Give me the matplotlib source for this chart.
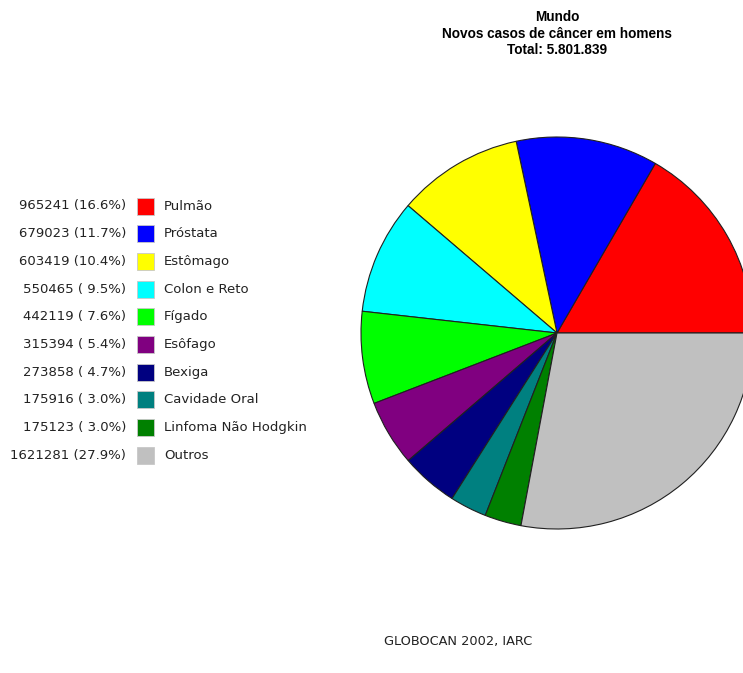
import matplotlib.pyplot as plt

# Novos casos de cancer em homens, mundo (GLOBOCAN 2002)
sites = ['Pulmão', 'Próstata', 'Estômago', 'Colon e Reto', 'Fígado',
         'Esôfago', 'Bexiga', 'Cavidade Oral', 'Linfoma Não Hodgkin', 'Outros']
cases = [965241, 679023, 603419, 550465, 442119,
         315394, 273858, 175916, 175123, 1621281]
pcts = [16.6, 11.7, 10.4, 9.5, 7.6, 5.4, 4.7, 3.0, 3.0, 27.9]
colors = ['#FF0000', '#0000FF', '#FFFF00', '#00FFFF', '#00FF00',
          '#800080', '#000080', '#008080', '#008000', '#C0C0C0']

W, H = 743, 673
fig = plt.figure(figsize=(W / 100, H / 100), dpi=100)
ax = fig.add_axes([0, 0, 1, 1])

ax.pie(cases, colors=colors, startangle=0, counterclock=True,
       center=(557, H - 333), radius=196,
       wedgeprops=dict(edgecolor='#202020', linewidth=0.8))
ax.set_xlim(0, W)
ax.set_ylim(0, H)
ax.set_aspect('equal')
ax.axis('off')

# title
titles = ['Mundo', 'Novos casos de câncer em homens', 'Total: 5.801.839']
for i, t in enumerate(titles):
    ax.text(557, H - 17 - i * 16.5, t, ha='center', va='center',
            fontsize=9.8, fontweight='bold', family='Liberation Sans')

# legend on the left
y0, dy = 206, 27.7
for i, (s, n, p, c) in enumerate(zip(sites, cases, pcts, colors)):
    y = H - (y0 + i * dy)
    pct = f'{p:.1f}%'
    if p < 10:
        pct = ' ' + pct
    ax.text(126, y, f'{n} ({pct})', ha='right', va='center',
            fontsize=9.5, color='#222222', family='DejaVu Sans')
    ax.add_patch(plt.Rectangle((137, y - 8.5), 17, 17, facecolor=c,
                               edgecolor='#c8c8c8', linewidth=0.6))
    ax.text(164, y, s, ha='left', va='center',
            fontsize=9.5, color='#222222', family='DejaVu Sans')

ax.text(458, H - 641, 'GLOBOCAN 2002, IARC', ha='center', va='center',
        fontsize=9.3, color='#222222', family='DejaVu Sans')

fig.savefig('out.png', dpi=100)
